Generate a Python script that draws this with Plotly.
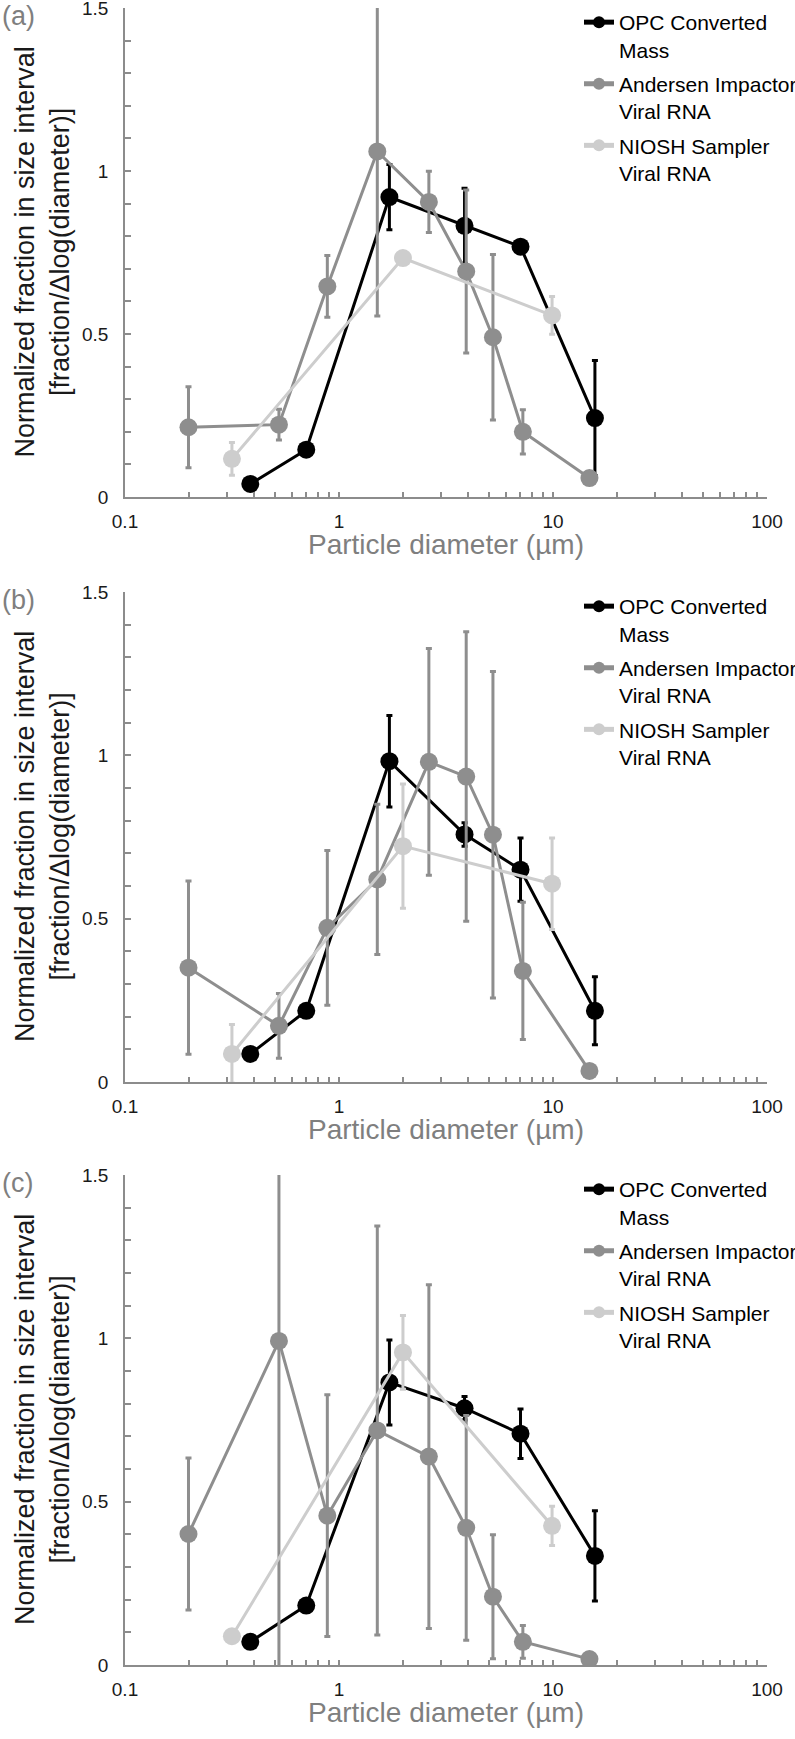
import plotly.graph_objects as go

# ---------------- data ----------------
x_opc = [0.385, 0.703, 1.72, 3.86, 7.05, 15.7]
x_and = [0.198, 0.524, 0.882, 1.51, 2.63, 3.93, 5.24, 7.23, 14.8]
x_nio = [0.316, 1.99, 9.9]

series_names = ["OPC Converted<br>Mass", "Andersen Impactor<br>Viral RNA", "NIOSH Sampler<br>Viral RNA"]
panel_labels = ["(a)", "(b)", "(c)"]

opc_a = [0.04, 0.145, 0.92, 0.832, 0.768, 0.242]
opc_a_err = [0, 0, 0.10, 0.115, 0, 0.177]
and_a = [0.214, 0.222, 0.646, 1.06, 0.905, 0.692, 0.49, 0.2, 0.058]
and_a_err = [0.124, 0.047, 0.095, 0.505, 0.094, 0.25, 0.254, 0.068, 0]
nio_a = [0.117, 0.733, 0.557]
nio_a_err = [0.05, 0, 0.058]

opc_b = [0.086, 0.218, 0.982, 0.758, 0.65, 0.218]
opc_b_err = [0, 0, 0.14, 0.036, 0.097, 0.104]
and_b = [0.35, 0.172, 0.472, 0.62, 0.98, 0.935, 0.757, 0.34, 0.034]
and_b_err = [0.265, 0.099, 0.237, 0.23, 0.347, 0.443, 0.50, 0.21, 0]
nio_b = [0.086, 0.722, 0.607]
nio_b_err = [0.09, 0.19, 0.14]

opc_c = [0.071, 0.182, 0.865, 0.786, 0.708, 0.334]
opc_c_err = [0, 0, 0.13, 0.036, 0.076, 0.138]
and_c = [0.401, 0.992, 0.457, 0.718, 0.638, 0.42, 0.209, 0.071, 0.018]
and_c_err = [0.233, 1.0, 0.37, 0.626, 0.526, 0.344, 0.19, 0.05, 0]
nio_c = [0.088, 0.957, 0.426]
nio_c_err = [0, 0.113, 0.06]

x_tickvals = [0.1, 0.2, 0.3, 0.4, 0.5, 0.6, 0.7, 0.8, 0.9,
              1, 2, 3, 4, 5, 6, 7, 8, 9,
              10, 20, 30, 40, 50, 60, 70, 80, 90, 100]
x_ticktext = ["0.1", "", "", "", "", "", "", "", "",
              "1", "", "", "", "", "", "", "", "",
              "10", "", "", "", "", "", "", "", "", "100"]
y_tickvals = [0, 0.1, 0.2, 0.3, 0.4, 0.5, 0.6, 0.7, 0.8, 0.9, 1.0,
              1.1, 1.2, 1.3, 1.4, 1.5]
y_ticktext = ["0", "", "", "", "", "0.5", "", "", "", "", "1",
              "", "", "", "", "1.5"]

# ---------------- style ----------------
FONT = "Liberation Sans, Arial, sans-serif"
colors = ["#000000", "#8e8e8e", "#cdcdcd"]
AXIS_COL = "#8c8c8c"
W, H = 830, 1739
plot_left, plot_right = 125, 767
panel_px = [(8, 497), (592, 1082), (1175, 1665)]
ML = plot_left
MR = W - plot_right
MT = panel_px[0][0]
MB = H - panel_px[2][1]
plot_w = W - ML - MR
plot_h = H - MT - MB
domains = []
for top, bot in panel_px:
    domains.append([(H - MB - bot) / plot_h, (H - MB - top) / plot_h])

panels = [
    (opc_a, opc_a_err, and_a, and_a_err, nio_a, nio_a_err),
    (opc_b, opc_b_err, and_b, and_b_err, nio_b, nio_b_err),
    (opc_c, opc_c_err, and_c, and_c_err, nio_c, nio_c_err),
]

fig = go.Figure()
legend_ids = ["legend", "legend2", "legend3"]
for p, (o, oe, a, ae, n, ne) in enumerate(panels):
    xa = "x" if p == 0 else f"x{p+1}"
    ya = "y" if p == 0 else f"y{p+1}"
    for s, (xs, ys, es) in enumerate([(x_opc, o, oe), (x_and, a, ae), (x_nio, n, ne)]):
        fig.add_trace(go.Scatter(
            x=xs, y=ys, xaxis=xa, yaxis=ya,
            mode="lines+markers",
            name=series_names[s],
            legend=legend_ids[p],
            legendgroup=f"p{p}s{s}",
            line=dict(color=colors[s], width=3),
            marker=dict(color=colors[s], size=18),
            error_y=dict(type="data", array=es, visible=True,
                         color=colors[s], thickness=3, width=3),
            cliponaxis=True,
            hoverinfo="x+y",
        ))

layout = dict(
    width=W, height=H,
    margin=dict(l=ML, r=MR, t=MT, b=MB, autoexpand=False),
    paper_bgcolor="white", plot_bgcolor="white",
    font=dict(family=FONT, size=19, color="#1a1a1a"),
    showlegend=True,
)

for p in range(3):
    sfx = "" if p == 0 else str(p + 1)
    layout["xaxis" + sfx] = dict(
        type="log", range=[-1, 2], domain=[0, 1],
        anchor="y" + sfx,
        tickvals=x_tickvals, ticktext=x_ticktext,
        ticks="inside", ticklen=5, tickwidth=1.5, tickcolor=AXIS_COL,
        showline=True, linecolor=AXIS_COL, linewidth=1.5,
        showgrid=False, zeroline=False,
        tickfont=dict(size=19, color="#1a1a1a"),
        ticklabelstandoff=6, ticklabeloverflow="allow",
        automargin=False,
    )
    layout["yaxis" + sfx] = dict(
        range=[0, 1.5], domain=domains[p],
        anchor="x" + sfx,
        tickvals=y_tickvals, ticktext=y_ticktext,
        ticks="inside", ticklen=6, tickwidth=1.5, tickcolor=AXIS_COL,
        showline=True, linecolor=AXIS_COL, linewidth=1.5,
        showgrid=False, zeroline=False,
        tickfont=dict(size=19, color="#1a1a1a"),
        ticklabelstandoff=11, ticklabeloverflow="allow",
        automargin=False,
    )
    leg_top = panel_px[p][0] - 6
    layout[legend_ids[p]] = dict(
        xref="paper", yref="paper",
        x=(579 - ML) / plot_w, y=(H - MB - leg_top) / plot_h,
        xanchor="left", yanchor="top",
        bgcolor="rgba(0,0,0,0)",
        font=dict(family=FONT, size=21, color="#000000"),
        valign="top", itemsizing="constant",
        tracegroupgap=4,
    )

fig.update_layout(**layout)

annotations = []
for p in range(3):
    sfx = "" if p == 0 else str(p + 1)
    # x axis title
    annotations.append(dict(
        text="Particle diameter (µm)", xref="x" + sfx + " domain", yref="y" + sfx + " domain",
        x=0.5, y=0, xanchor="center", yanchor="middle", yshift=-47, showarrow=False,
        font=dict(family=FONT, size=28, color="#7f7f7f"),
    ))
    # y axis title
    annotations.append(dict(
        text="Normalized fraction in size interval<br>[fraction/Δlog(diameter)]",
        xref="x" + sfx + " domain", yref="y" + sfx + " domain",
        x=0, y=0.5, xanchor="center", yanchor="middle", xshift=-83,
        textangle=-90, showarrow=False,
        font=dict(family=FONT, size=27, color="#1a1a1a"),
    ))
    # panel label
    annotations.append(dict(
        text=panel_labels[p], xref="paper", yref="y" + sfx + " domain",
        x=0, y=1, xanchor="left", yanchor="middle", xshift=-ML, yshift=-8,
        showarrow=False,
        font=dict(family=FONT, size=27, color="#7f7f7f"),
    ))
fig.update_layout(annotations=annotations)

fig.write_html("out.html", config={"displayModeBar": False},
               post_script="document.body.style.margin='0px';")
